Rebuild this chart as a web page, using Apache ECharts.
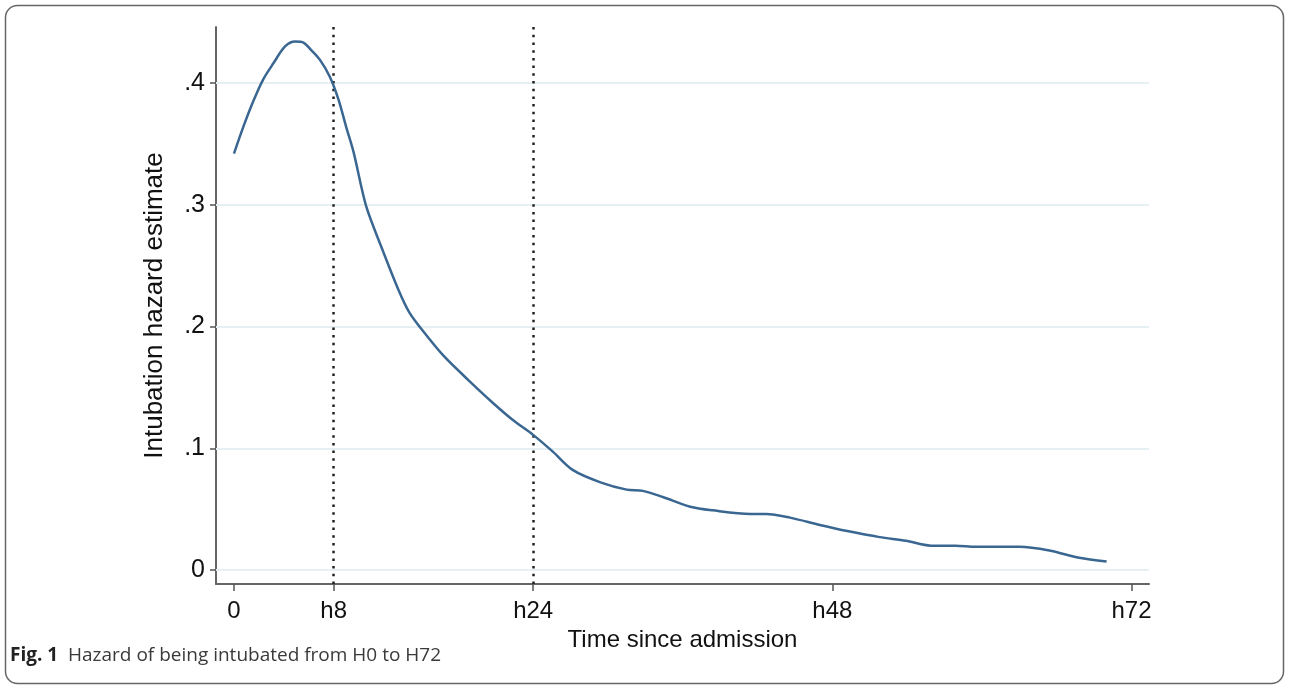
<!DOCTYPE html>
<html>
<head>
<meta charset="utf-8">
<title>Hazard of being intubated</title>
<script src="https://cdn.jsdelivr.net/npm/echarts@6.0.0/dist/echarts.min.js"></script>
<style>
    html, body { margin: 0; padding: 0; background: #fff; }
    #chart { width: 1290px; height: 690px; }
</style>
</head>
<body>
<div id="chart"></div>
<script>
// hours since admission and the smoothed hazard
const hours = [0, 0.75, 1.55, 2.35, 3.15, 4.1, 4.9, 5.6, 6.2, 6.9, 7.7, 8.4, 9.0, 9.6, 10.6, 11.8, 13.2, 14.1, 15.5, 16.9,
    18.8, 20.8, 22.4, 24.0, 25.6, 27.2, 29.4, 31.5, 32.8, 34.4, 36.6, 38.4, 41.4, 42.7, 44.6, 47.0, 49.2, 51.8,
    53.9, 55.9, 57.9, 59.5, 63.0, 65.4, 67.8, 70.0];
const hazard = [0.342, 0.364, 0.385, 0.403, 0.416, 0.430, 0.434, 0.433, 0.427, 0.419, 0.405, 0.386, 0.364, 0.343,
    0.299, 0.266, 0.230, 0.211, 0.192, 0.175, 0.156, 0.137, 0.123, 0.111, 0.097, 0.082, 0.072, 0.066, 0.065,
    0.060, 0.052, 0.049, 0.046, 0.046, 0.043, 0.037, 0.032, 0.027, 0.024, 0.020, 0.020, 0.019, 0.019, 0.016,
    0.010, 0.007];

const xTicks = [0, 8, 24, 48, 72];
const xTickLabels = ['0', 'h8', 'h24', 'h48', 'h72'];
const yTicks = [0, 0.1, 0.2, 0.3, 0.4];
const yTickLabels = ['0', '.1', '.2', '.3', '.4'];
const markHours = [8, 24];

const font = '"Liberation Sans", Arial, sans-serif';
const captionFont = '"Open Sans", "Noto Sans", sans-serif';
const chart = echarts.init(document.getElementById('chart'));

const option = {
    animation: false,
    backgroundColor: '#fff',
    grid: { left: 216, right: 141, top: 27, bottom: 106, outerBoundsMode: 'none' },
    xAxis: {
        type: 'value',
        min: -1.44,
        max: 73.4,
        name: 'Time since admission',
        nameLocation: 'middle',
        nameGap: 34,
        nameTextStyle: { fontFamily: font, fontSize: 24, color: '#111' },
        axisLine: { onZero: false, lineStyle: { color: '#666', width: 2 } },
        axisTick: { customValues: xTicks, length: 7, lineStyle: { color: '#555', width: 1.5 } },
        axisLabel: {
            customValues: xTicks,
            formatter: v => xTickLabels[xTicks.indexOf(v)],
            fontFamily: font, fontSize: 24, color: '#111', margin: 15
        },
        splitLine: { show: false }
    },
    yAxis: {
        type: 'value',
        min: -0.0115,
        max: 0.446,
        name: 'Intubation hazard estimate',
        nameLocation: 'middle',
        nameGap: 48,
        nameTextStyle: { fontFamily: font, fontSize: 26, color: '#111' },
        axisLine: { show: true, onZero: false, lineStyle: { color: '#666', width: 2 } },
        axisTick: { show: true, customValues: yTicks, length: 6, lineStyle: { color: '#555', width: 1.5 } },
        axisLabel: {
            customValues: yTicks,
            formatter: v => yTickLabels[yTicks.indexOf(v)],
            fontFamily: font, fontSize: 25, color: '#111', margin: 11
        },
        splitLine: { show: false }
    },
    series: [
        {
            // grid lines
            type: 'line',
            data: [],
            z: 1,
            silent: true,
            markLine: {
                z: 1,
                silent: true,
                symbol: 'none',
                label: { show: false },
                lineStyle: { color: '#e6eff1', width: 2, type: 'solid' },
                emphasis: { disabled: true },
                data: yTicks.map(v => ({ yAxis: v }))
            }
        },
        {
            // dotted reference hours
            type: 'line',
            data: [],
            z: 2,
            silent: true,
            markLine: {
                z: 2,
                silent: true,
                symbol: 'none',
                label: { show: false },
                lineStyle: { color: '#222', width: 2.5, type: [2.5, 5.2] },
                emphasis: { disabled: true },
                data: markHours.map(h => ({ xAxis: h }))
            }
        },
        {
            type: 'line',
            z: 10,
            data: hours.map((h, i) => [h, hazard[i]]),
            showSymbol: false,
            smooth: 0.3,
            lineStyle: { color: '#3a6791', width: 2.5 }
        }
    ],
    graphic: [
        {
            type: 'rect',
            shape: { x: 5.5, y: 5.5, width: 1278, height: 678, r: 12 },
            style: { fill: 'none', stroke: '#666', lineWidth: 1.5 },
            silent: true
        },
        {
            type: 'text',
            left: 10,
            top: 646,
            style: {
                text: '{b|Fig. 1}  Hazard of being intubated from H0 to H72',
                fontFamily: captionFont,
                fontSize: 19,
                fill: '#3a3a3a',
                rich: {
                    b: { fontWeight: 'bold', fontSize: 19, fill: '#222', fontFamily: captionFont }
                }
            }
        }
    ]
};

chart.setOption(option);
</script>
</body>
</html>
